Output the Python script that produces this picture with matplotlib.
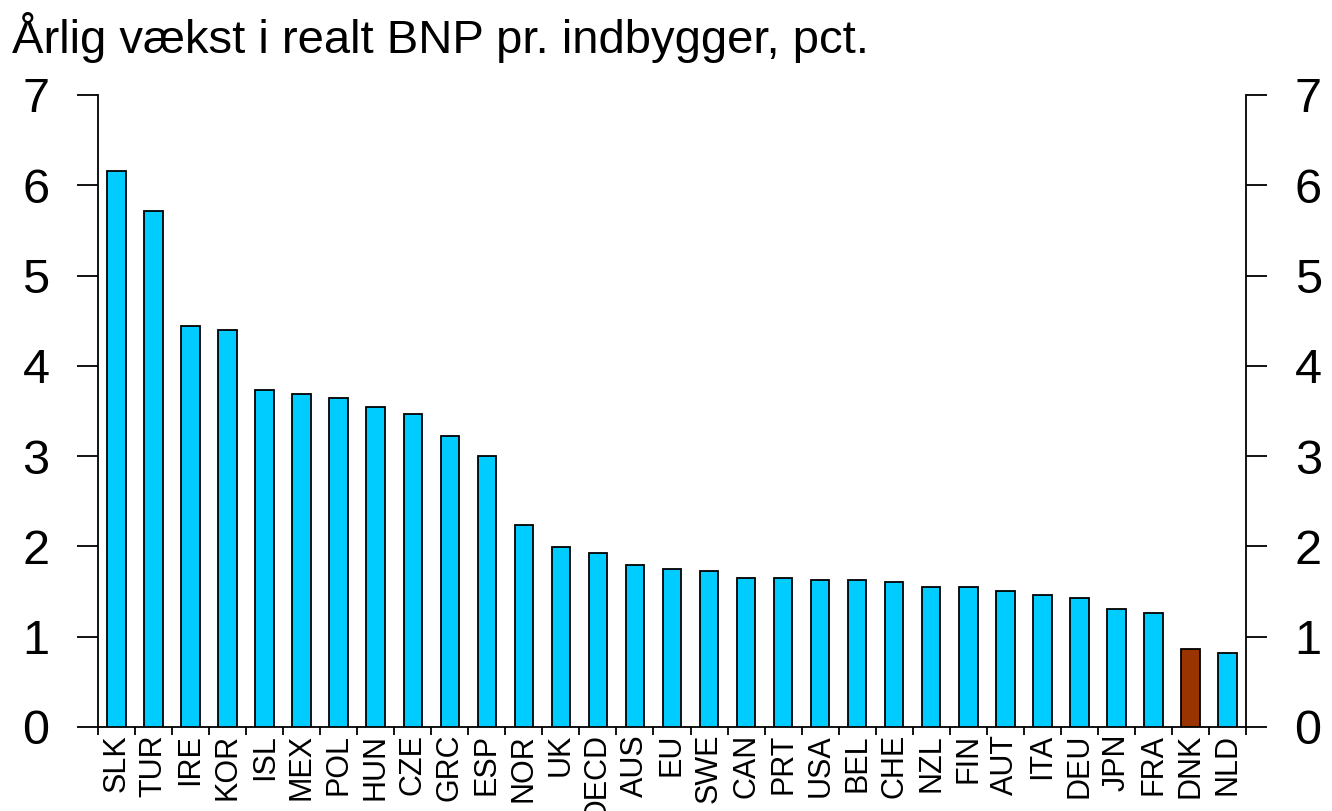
import matplotlib
matplotlib.use("Agg")
import matplotlib.pyplot as plt
import numpy as np

countries = ["SLK", "TUR", "IRE", "KOR", "ISL", "MEX", "POL", "HUN", "CZE", "GRC", "ESP",
             "NOR", "UK", "OECD", "AUS", "EU", "SWE", "CAN", "PRT", "USA", "BEL", "CHE",
             "NZL", "FIN", "AUT", "ITA", "DEU", "JPN", "FRA", "DNK", "NLD"]
growth = [6.16, 5.71, 4.44, 4.40, 3.73, 3.69, 3.64, 3.54, 3.47, 3.22, 3.00,
          2.24, 1.99, 1.93, 1.79, 1.75, 1.73, 1.65, 1.65, 1.63, 1.63, 1.61,
          1.55, 1.55, 1.51, 1.46, 1.43, 1.31, 1.26, 0.86, 0.82]
highlight = "DNK"
y_ticks = [0, 1, 2, 3, 4, 5, 6, 7]
title = "Årlig vækst i realt BNP pr. indbygger, pct."

plt.rcParams['font.family'] = ['Liberation Sans', 'DejaVu Sans']

fig = plt.figure(figsize=(13.32, 8.11), dpi=100)
ax = fig.add_axes([98/1332, 1-727/811, (1246-98)/1332, (727-95)/811])

x = np.arange(len(countries))
colors = ['#993300' if c == highlight else '#00CCFF' for c in countries]
ax.bar(x, growth, width=0.5, color=colors, edgecolor='black', linewidth=1.3, zorder=3)

ax.set_xlim(-0.5, len(countries) - 0.5)
ax.set_ylim(0, 7)
ax.set_yticks(y_ticks)
ax.set_yticklabels([str(t) for t in y_ticks])

ax.spines['top'].set_visible(False)
for s in ['left', 'right', 'bottom']:
    ax.spines[s].set_linewidth(1.3)

ax.tick_params(axis='y', which='major', direction='out', length=15, width=1.3,
               labelsize=35, pad=20, left=True, right=True, labelleft=True, labelright=True)

ax.set_xticks(x)
ax.set_xticklabels(countries, rotation=90, fontsize=22, va='top', ha='center')
ax.set_xticks(np.arange(-0.5, len(countries)), minor=True)
ax.tick_params(axis='x', which='major', length=0, pad=5)
ax.tick_params(axis='x', which='minor', direction='out', length=6, width=1.3)

fig.text(12/1332, 1-53/811, title, fontsize=34, ha='left', va='baseline')

fig.savefig("out.png", dpi=100)
